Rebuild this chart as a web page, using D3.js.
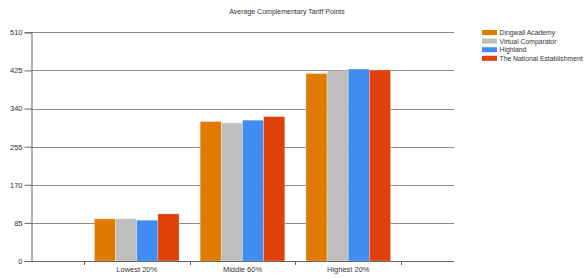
<!DOCTYPE html>
<html>
<head>
<meta charset="utf-8">
<script src="https://cdn.jsdelivr.net/npm/d3@7"></script>
<style>
  body { margin: 0; background: #fff; }
  text { font-family: "Liberation Sans", Arial, sans-serif; fill: #333; }
</style>
</head>
<body>
<div id="chart"></div>
<script>
// chart data
var categories = ["Lowest 20%", "Middle 60%", "Highest 20%"];
var seriesNames = ["Dingwall Academy", "Virtual Comparator", "Highland", "The National Establishment"];
var dingwall = [94, 311, 418];
var comparator = [94, 308, 424];
var highland = [91, 314, 428];
var national = [105, 322, 426];
var yTicks = [0, 85, 170, 255, 340, 425, 510];
var colors = ["#E07B00", "#BEBEBE", "#418CF0", "#E0400A"];

var svgWidth = 584;
var svgHeight = 279;

// plot area
var plotLeft = 31, plotRight = 454, plotTop = 32.3, plotBottom = 261;
var slot = (plotRight - plotLeft) / 4;

var svg = d3.select("#chart")
  .append("svg")
  .attr("width", svgWidth)
  .attr("height", svgHeight);

var yScale = d3.scaleLinear()
  .domain([0, 510])
  .range([plotBottom, plotTop]);

// categories sit at 1, 2, 3 of an axis running 0..4
var xScale = d3.scaleBand()
  .domain(categories)
  .range([plotLeft + slot / 2, plotRight - slot / 2]);

var xInner = d3.scaleBand()
  .domain(d3.range(seriesNames.length))
  .range([0, xScale.bandwidth()])
  .paddingOuter(0.5)
  .paddingInner(0);

// gridlines
svg.append("g")
  .selectAll("line")
  .data(yTicks.filter(d => d > 0))
  .enter()
  .append("line")
  .attr("x1", plotLeft)
  .attr("x2", plotRight)
  .attr("y1", d => Math.round(yScale(d)) + 0.5)
  .attr("y2", d => Math.round(yScale(d)) + 0.5)
  .attr("stroke", "#8c8c8c")
  .attr("stroke-width", 1.2);

// y axis
var yAxis = d3.axisLeft(yScale).tickValues(yTicks).tickSize(7).tickPadding(2);
var yG = svg.append("g")
  .attr("transform", `translate(${plotLeft + 0.5}, 0)`)
  .call(yAxis);
yG.select(".domain").attr("stroke", "#666");
yG.selectAll(".tick line").attr("stroke", "#666");
yG.selectAll(".tick text").attr("font-size", "7.5px").attr("fill", "#333")
  .attr("font-family", "Liberation Sans, Arial, sans-serif");

// bars
var seriesData = [dingwall, comparator, highland, national];
seriesData.forEach(function(values, s) {
  svg.append("g")
    .selectAll("rect")
    .data(values)
    .enter()
    .append("rect")
    .attr("x", (d, i) => xScale(categories[i]) + xInner(s))
    .attr("y", d => yScale(d))
    .attr("width", xInner.bandwidth())
    .attr("height", d => plotBottom - yScale(d))
    .attr("fill", colors[s])
    .attr("stroke", "#fff")
    .attr("stroke-opacity", 0.35)
    .attr("stroke-width", 0.8);
});

// x axis
var xAxis = d3.axisBottom(xScale).tickSize(0).tickPadding(5);
var xG = svg.append("g")
  .attr("transform", `translate(0, ${plotBottom + 0.5})`)
  .call(xAxis);
xG.select(".domain").remove();
xG.selectAll(".tick text").attr("font-size", "7.5px").attr("fill", "#333")
  .attr("font-family", "Liberation Sans, Arial, sans-serif");

svg.append("line")
  .attr("x1", plotLeft)
  .attr("x2", plotRight)
  .attr("y1", plotBottom + 0.5)
  .attr("y2", plotBottom + 0.5)
  .attr("stroke", "#666")
  .attr("stroke-width", 1.2);

// ticks between categories
var edges = categories.map(c => xScale(c)).concat([xScale(categories[2]) + xScale.bandwidth()]);
svg.append("g")
  .selectAll("line")
  .data(edges)
  .enter()
  .append("line")
  .attr("x1", d => Math.round(d) + 0.5)
  .attr("x2", d => Math.round(d) + 0.5)
  .attr("y1", plotBottom)
  .attr("y2", plotBottom + 4)
  .attr("stroke", "#666");

// title
svg.append("text")
  .attr("x", 287)
  .attr("y", 14)
  .attr("text-anchor", "middle")
  .attr("font-size", "7px")
  .text("Average Complementary Tariff Points");

// legend
var legend = svg.append("g")
  .selectAll("g")
  .data(seriesNames)
  .enter()
  .append("g")
  .attr("transform", (d, i) => `translate(482, ${30 + i * 8.6})`);

legend.append("rect")
  .attr("width", 15)
  .attr("height", 5)
  .attr("fill", (d, i) => colors[i]);

legend.append("text")
  .attr("x", 17.5)
  .attr("y", 5.2)
  .attr("font-size", "6.8px")
  .text(d => d);
</script>
</body>
</html>
